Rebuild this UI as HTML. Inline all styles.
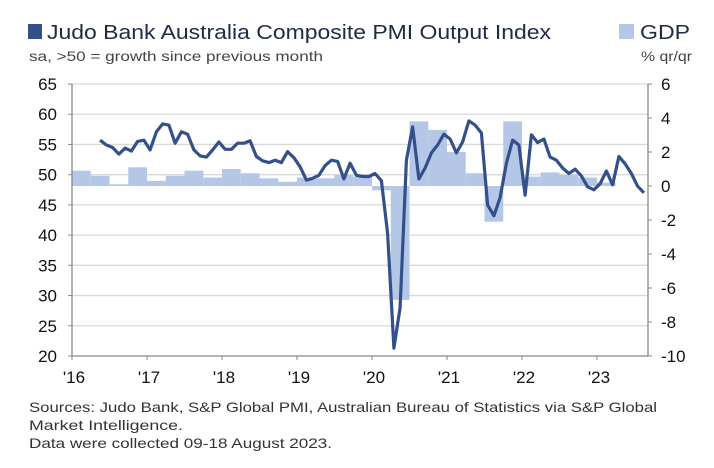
<!DOCTYPE html>
<html><head><meta charset="utf-8">
<style>
html,body{margin:0;padding:0;background:#fff;}
body{width:714px;height:463px;overflow:hidden;font-family:"Liberation Sans",sans-serif;}
svg text{font-family:"Liberation Sans",sans-serif;}
</style></head>
<body>
<svg id="chart" width="714" height="463" viewBox="0 0 714 463">
  <rect x="28" y="24" width="14" height="15" fill="#34508a"/>
  <text x="47" y="39" font-size="20" fill="#1f2a44" textLength="504" lengthAdjust="spacingAndGlyphs">Judo Bank Australia Composite PMI Output Index</text>
  <text x="29" y="61" font-size="14" fill="#444" textLength="294" lengthAdjust="spacingAndGlyphs">sa, &gt;50 = growth since previous month</text>
  <rect x="619" y="24" width="15" height="15" fill="#b4c7e7"/>
  <text x="640" y="39" font-size="20" fill="#1f2a44" textLength="50" lengthAdjust="spacingAndGlyphs">GDP</text>
  <text x="641" y="61" font-size="14" fill="#444" textLength="51" lengthAdjust="spacingAndGlyphs">% qr/qr</text>
  <g id="grid"></g>
  <g id="bars"></g>
  <g id="axes"></g>
  <path id="pmiLine" fill="none" stroke="#34508a" stroke-width="3.2" stroke-linejoin="round"/>
  <text x="29" y="412" font-size="14" fill="#333" textLength="628" lengthAdjust="spacingAndGlyphs">Sources: Judo Bank, S&amp;P Global PMI, Australian Bureau of Statistics via S&amp;P Global</text>
  <text x="29" y="430" font-size="14" fill="#333" textLength="154" lengthAdjust="spacingAndGlyphs">Market Intelligence.</text>
  <text x="29" y="448" font-size="14" fill="#333" textLength="303" lengthAdjust="spacingAndGlyphs">Data were collected 09-18 August 2023.</text>
</svg>
<script>
// PMI monthly from May 2016
const pmiStart = 4; // month index from Jan 2016
const pmiValues = [55.7,54.9,54.5,53.4,54.4,53.9,55.5,55.7,
54.1,57.1,58.4,58.2,55.2,57.1,56.7,54.1,53.1,52.9,54.1,55.4,
54.2,54.2,55.2,55.2,55.6,53.0,52.3,52.0,52.4,52.0,53.8,52.8,
51.3,49.1,49.4,49.9,51.5,52.4,52.2,49.3,51.9,49.9,49.7,49.7,
50.2,49.0,40.3,21.3,28.0,52.4,57.9,49.3,51.1,53.6,54.9,56.7,
55.9,53.6,55.4,58.9,58.2,56.9,45.0,43.2,46.2,51.9,55.7,54.9,
46.6,56.6,55.3,55.9,52.9,52.4,51.1,50.2,50.9,49.8,48.0,47.5,
48.5,50.6,48.3,53.0,51.8,50.2,48.1,47.0];
// GDP quarterly from 2016 Q1
const gdpValues = [0.9,0.6,0.1,1.1,0.3,0.6,0.9,0.5,1.0,0.75,0.45,0.25,0.5,0.45,0.65,0.55,
-0.25,-6.7,3.8,3.3,2.0,0.75,-2.1,3.8,0.55,0.8,0.65,0.5,0.2];
const leftTicks = [65,60,55,50,45,40,35,30,25,20];
const rightTicks = [6,4,2,0,-2,-4,-6,-8,-10];
const yearLabels = ["'16","'17","'18","'19","'20","'21","'22","'23"];

const X0=72, X1=648, Y0=84, Y1=356, YEARW=75;
const xMonth = m => X0 + (m+0.5)*YEARW/12;
const xQuarter = q => X0 + q*YEARW/4;
const yL = v => Y0 + (65-v)*(Y1-Y0)/45;
const yR = v => Y0 + (6-v)*(Y1-Y0)/16;
const NS="http://www.w3.org/2000/svg";
function mk(tag, attrs, parent){const e=document.createElementNS(NS,tag);for(const k in attrs)e.setAttribute(k,attrs[k]);parent.appendChild(e);return e;}
const grid=document.getElementById('grid'), bars=document.getElementById('bars'), axes=document.getElementById('axes');

leftTicks.forEach(v=>{
  const y=yL(v);
  if(v!==20){const g=mk('line',{x1:X0,x2:X1,y1:y,y2:y,stroke:'#d9d9d9','stroke-width':1.3},grid);
  
  }
  const t=mk('line',{x1:X0-4,x2:X0,y1:y,y2:y,stroke:'#888'},axes);
  
  
  const l=mk('text',{x:57,y:y+6,'font-size':17,'text-anchor':'end',fill:'#111'},axes);
  l.textContent=v;
  
  
});
rightTicks.forEach(v=>{
  const y=yR(v);
  const t=mk('line',{x1:X1,x2:X1+4,y1:y,y2:y,stroke:'#888'},axes);
  
  
  const l=mk('text',{x:661,y:y+6,'font-size':17,fill:'#111'},axes);
  l.textContent=v;
  
  
});
yearLabels.forEach((s,i)=>{
  const x=X0+i*YEARW;
  const t=mk('line',{x1:x,x2:x,y1:Y1,y2:Y1+4,stroke:'#888'},axes);
  
  
  const l=mk('text',{x:x+2,y:Y1+27,'font-size':17,'text-anchor':'middle',fill:'#111'},axes);
  l.textContent=s;
  
  
});
[['left-axis-line',X0,Y0,X0,Y1],['right-axis-line',X1,Y0,X1,Y1],['x-axis-line',X0,Y1,X1,Y1]].forEach(a=>{
  const e=mk('line',{x1:a[1],y1:a[2],x2:a[3],y2:a[4],stroke:'#888','stroke-width':1.3},axes);
  
  
});
gdpValues.forEach((v,q)=>{
  const y0=yR(0), y=yR(v);
  const r=mk('rect',{x:xQuarter(q),width:YEARW/4,y:Math.min(y,y0),height:Math.max(Math.abs(y-y0),0.8),fill:'#b4c7e7'},bars);
  
  
});
document.getElementById('pmiLine').setAttribute('d',pmiValues.map((v,i)=>(i?'L':'M')+xMonth(pmiStart+i).toFixed(1)+','+yL(v).toFixed(1)).join(' '));
</script>
</body></html>
